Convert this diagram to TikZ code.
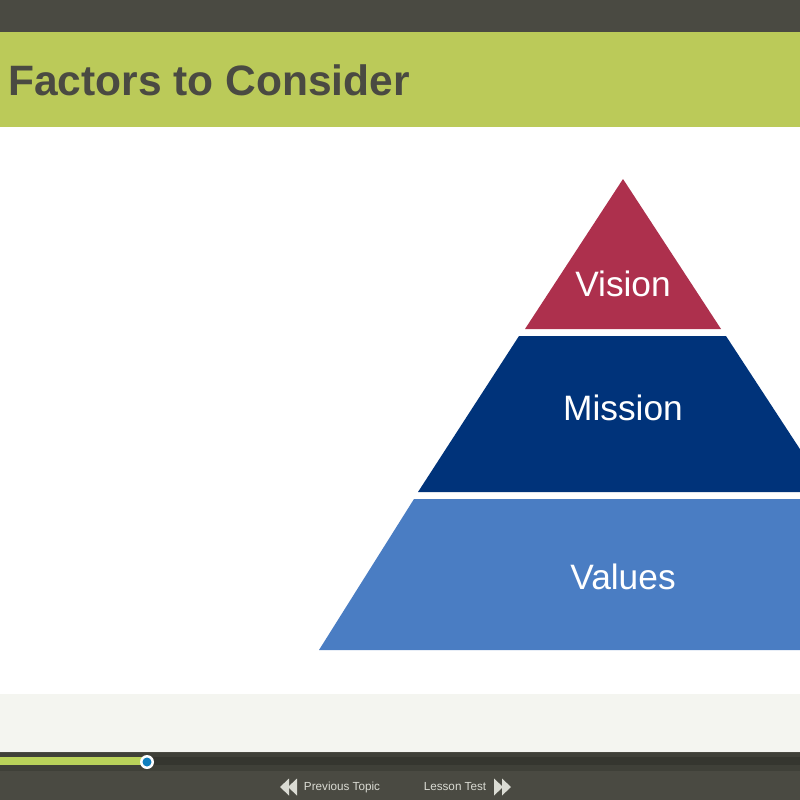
\documentclass[tikz,border=0pt]{standalone}
\usepackage{xcolor}
\usepackage{fontspec}
\setmainfont{Liberation Sans}
\usetikzlibrary{positioning, shapes.geometric}
\definecolor{darkbar}{HTML}{4A4A42}
\definecolor{headgreen}{HTML}{BBCA59}
\definecolor{visionred}{HTML}{AD304D}
\definecolor{missionblue}{HTML}{00337A}
\definecolor{valuesblue}{HTML}{4A7DC3}
\definecolor{footgrey}{HTML}{F4F5F0}
\definecolor{bandgrey}{HTML}{3F4038}
\definecolor{trackgrey}{HTML}{35362F}
\definecolor{progressgreen}{HTML}{B9D25A}
\definecolor{knobblue}{HTML}{0F7FBF}
\definecolor{navtext}{HTML}{DADBD3}

\begin{document}
\begin{tikzpicture}[x=1pt, y=-1pt,
		level/.style = {text=white, font=\fontsize{35.3}{35}\selectfont},
		nav/.style = {text=navtext, font=\fontsize{11.7}{12}\selectfont},
		tip/.style = {fill=navtext}]
			\clip (0,0) rectangle (800,800);
			\fill[white] (0,0) rectangle (800,800);
			% bars
			\fill[darkbar] (0,0) rectangle (800,32);
			\fill[headgreen] (0,32) rectangle (800,127);
			\fill[footgrey] (0,694) rectangle (800,752);
			\fill[darkbar] (0,752) rectangle (800,800);
			\fill[bandgrey] (0,753) rectangle (800,771);
			\fill[trackgrey] (0,757) rectangle (800,765);
			\fill[progressgreen] (0,757) rectangle (147,765);
			\node[anchor=west, text=darkbar, font=\bfseries\fontsize{42.5}{42}\selectfont, inner sep=0pt] (title) at (8,80.5) {Factors to Consider};
			% pyramid
			\fill[visionred] (623,179) -- (721,329) -- (525,329) -- cycle;
			\fill[missionblue] (519,336) -- (726,336) -- (828,492) -- (418,492) -- cycle;
			\fill[valuesblue] (414,499) -- (832,499) -- (927,650) -- (319,650) -- cycle;
			\node[level] (vision) at (623,284) {Vision};
			\node[level] (mission) at (623,408) {Mission};
			\node[level] (values) at (623,577) {Values};
			% knob
			\fill[white] (147,762) circle (7);
			\fill[knobblue] (147,762) circle (4.5);
			% navigation
			\fill[tip] (289,778.5) -- (289,795.5) -- (280,787) -- cycle;
			\fill[tip] (297,778.5) -- (297,795.5) -- (288,787) -- cycle;
			\fill[tip] (494,778.5) -- (494,795.5) -- (503,787) -- cycle;
			\fill[tip] (502,778.5) -- (502,795.5) -- (511,787) -- cycle;
			\node[nav] (prev) at (342,787) {Previous Topic};
			\node[nav] (next) at (455,787) {Lesson Test};
		\end{tikzpicture}
\end{document}
